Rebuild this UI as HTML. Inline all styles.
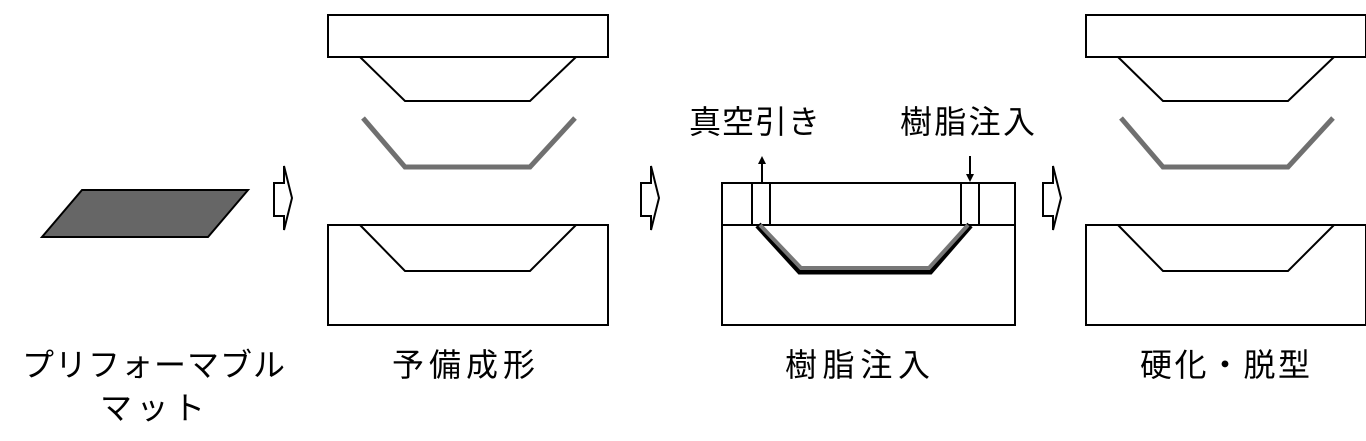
<!DOCTYPE html>
<html><head><meta charset="utf-8"><style>
body{margin:0;background:#fff;width:1366px;height:441px;overflow:hidden}
svg{display:block}
text{font-family:"Liberation Sans","Noto Sans CJK JP",sans-serif;fill:#000}
</style></head><body>
<svg width="1366" height="441" viewBox="0 0 1366 441">
<defs>
<marker id="ah" markerWidth="8" markerHeight="8" refX="4" refY="4" orient="auto" markerUnits="userSpaceOnUse">
<path d="M0,0 L8,4 L0,8 Z" fill="#000"/></marker>
<g id="mold" fill="none" stroke="#000" stroke-width="2">
<rect x="328" y="15" width="280" height="42"/>
<polyline points="360,57 405,101 530,101 576,57"/>
<rect x="328" y="225" width="280" height="100"/>
<polyline points="360,225 405,271 530,271 576,225"/>
<polyline points="363,118 405,167 530,167 575,118" stroke="#707070" stroke-width="5"/>
</g>
<path id="arr" d="M0,17 L10,17 L10,0 L18,32 L10,64 L10,50 L0,50 Z" fill="#fff" stroke="#000" stroke-width="2"/>
</defs>
<polygon points="82,190 248,190 208,237 42,237" fill="#666" stroke="#000" stroke-width="2"/>
<use href="#arr" x="274" y="166"/>
<use href="#mold"/>
<use href="#arr" x="641" y="166"/>
<g fill="none" stroke="#000" stroke-width="2">
<rect x="722" y="183" width="293" height="142"/>
<line x1="722" y1="225" x2="1015" y2="225"/>
<line x1="752" y1="183" x2="752" y2="225"/><line x1="770" y1="183" x2="770" y2="225"/>
<line x1="961" y1="183" x2="961" y2="225"/><line x1="979" y1="183" x2="979" y2="225"/>
<polyline points="758,225 800,271 930,271 970,225" stroke="#000" stroke-width="7"/>
<polyline points="760,225 801,268 929,268 968,225" stroke="#777" stroke-width="4"/>
<line x1="762" y1="182" x2="762" y2="160" marker-end="url(#ah)"/>
<line x1="970" y1="156" x2="970" y2="178" marker-end="url(#ah)"/>
</g>
<use href="#arr" x="1043" y="166"/>
<use href="#mold" x="758"/>
<g font-size="32">
<text x="689" y="133" textLength="131">真空引き</text>
<text x="900" y="133" textLength="135">樹脂注入</text>
<text x="22" y="376" textLength="263">プリフォーマブル</text>
<text x="100" y="419" textLength="105">マット</text>
<text x="392" y="376" textLength="143">予備成形</text>
<text x="785" y="376" textLength="145">樹脂注入</text>
<text x="1140" y="376" textLength="170">硬化・脱型</text>
</g>
</svg>
</body></html>
